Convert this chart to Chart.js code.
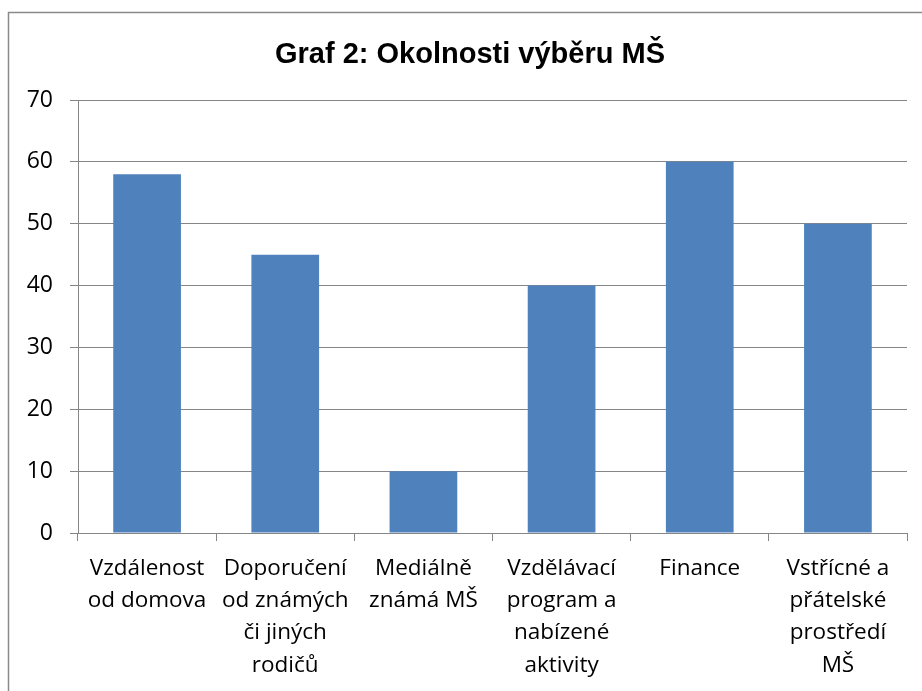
<!DOCTYPE html>
<html>
<head>
	<meta charset="UTF-8">
	<title>Graf 2: Okolnosti výběru MŠ</title>
	<script src="https://cdn.jsdelivr.net/npm/chart.js@4.4.1/dist/chart.umd.min.js"></script>
	<style>
		html, body { margin: 0; padding: 0; background: #ffffff; }
		canvas { display: block; }
	</style>
</head>
<body>
	<canvas id="reportChart" width="922" height="691"></canvas>
<script>
	// data
	var categories = [
		["Vzdálenost", "od domova"],
		["Doporučení", "od známých", "či jiných", "rodičů"],
		["Mediálně", "známá MŠ"],
		["Vzdělávací", "program a", "nabízené", "aktivity"],
		["Finance"],
		["Vstřícné a", "přátelské", "prostředí", "MŠ"]
	];
	var values = [58, 45, 10, 40, 60, 50];
	var yTicks = [0, 10, 20, 30, 40, 50, 60, 70];
	var chartTitle = "Graf 2: Okolnosti výběru MŠ";

	var gridColour = "#868686";
	var barColour = "#4F81BD";

	// outer frame like the office chart box (open on right and bottom) + title centred on the frame
	var framePlugin = {
		id: "frame",
		beforeDraw: function(chart) {
			var c = chart.ctx;
			c.save();
			c.fillStyle = "#ffffff";
			c.fillRect(0, 0, chart.width, chart.height);
			c.strokeStyle = "#8a8a8a";
			c.lineWidth = 1.5;
			c.strokeRect(8.5, 12.5, 930, 700);
			c.fillStyle = "#000000";
			c.font = "bold 29px 'Liberation Sans', Arial, sans-serif";
			c.textAlign = "center";
			c.textBaseline = "alphabetic";
			c.fillText(chartTitle, 470, 63);
			c.restore();
		}
	};

	var data = {
		labels: categories,
		datasets: [{
			data: values,
			backgroundColor: barColour,
			borderWidth: 0,
			barPercentage: 0.49,
			categoryPercentage: 1.0
		}]
	};

	var options = {
		responsive: false,
		animation: false,
		layout: { padding: { left: 0, right: 15, top: 100, bottom: 0 } },
		plugins: {
			legend: { display: false },
			tooltip: { enabled: false },
			title: { display: false }
		},
		scales: {
			x: {
				grid: {
					offset: true,
					drawOnChartArea: false,
					drawTicks: true,
					tickLength: 8,
					color: gridColour
				},
				border: { color: gridColour, width: 1 },
				ticks: {
					color: "#000000",
					maxRotation: 0,
					autoSkip: false,
					padding: 11,
					font: { family: "'Open Sans', sans-serif", size: 22.5, lineHeight: 1.44 }
				},
				afterFit: function(scale) { scale.height = 158; }
			},
			y: {
				min: 0,
				max: 70,
				afterBuildTicks: function(scale) {
					scale.ticks = yTicks.map(function(v) { return { value: v }; });
				},
				grid: {
					color: gridColour,
					tickLength: 8,
					drawTicks: true
				},
				border: { color: gridColour, width: 1 },
				ticks: {
					color: "#000000",
					padding: 17,
					font: { family: "'Open Sans', sans-serif", size: 23 }
				},
				afterFit: function(scale) { scale.width = 78; }
			}
		}
	};

	var ctx = document.getElementById("reportChart").getContext("2d");
	var reportChart = new Chart(ctx, { type: "bar", data: data, options: options, plugins: [framePlugin] });
</script>
</body>
</html>
